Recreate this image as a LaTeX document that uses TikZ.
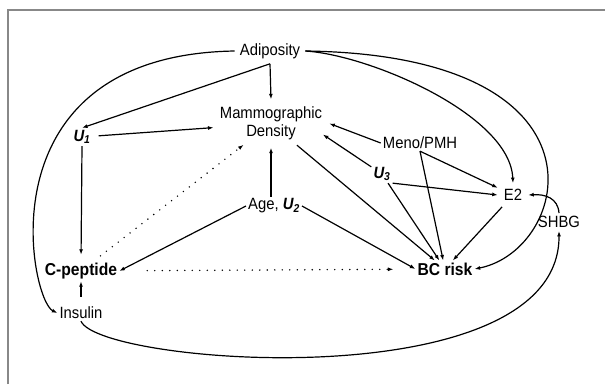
\documentclass[tikz,border=0pt]{standalone}
\usepackage{fontspec}
\setmainfont{Liberation Sans}[FakeStretch=0.91]
\usetikzlibrary{arrows.meta,shapes.geometric}
\definecolor{framegray}{HTML}{888888}

\begin{document}
\begin{tikzpicture}[x=1pt,y=-1pt,
    lbl/.style={font=\fontsize{16.3}{18}\selectfont, inner sep=2pt},
    boldlbl/.style={font=\fontsize{17.2}{18}\selectfont\bfseries, inner sep=2pt},
    arr/.style={line width=1.2pt, -{Latex[length=5.5pt,width=4pt]}},
    dots/.style={arr, line width=1.6pt, line cap=round, dash pattern=on 0pt off 7.5pt}]
    \useasboundingbox (0,0) rectangle (605,384);
    \draw[framegray, line width=2.5pt] (8,384) -- (8,10) -- (605,10);

    \node[lbl, inner sep=5pt] (adip) at (270,51) {Adiposity};
    \node[lbl, ellipse, inner xsep=-10pt, inner ysep=0pt, minimum height=48pt, align=center]
        (mammo) at (271,123.5) {Mammographic\\Density};
    \node[lbl] (uone) at (82,137) {\textbf{\textit{U\textsubscript{1}}}};
    \node[lbl] (meno) at (420,143) {Meno/PMH};
    \node[lbl] (uthree) at (382,174) {\textbf{\textit{U\textsubscript{3}}}};
    \node[lbl] (age) at (274,206) {Age, \textbf{\textit{U\textsubscript{2}}}};
    \node[lbl, inner sep=6pt] (etwo) at (513,195) {E2};
    \node[lbl, inner sep=3pt] (shbg) at (559,222) {SHBG};
    \node[boldlbl] (cpep) at (81,271) {C-peptide};
    \node[boldlbl] (bcrisk) at (445,269) {BC risk};
    \node[lbl] (insulin) at (81,313) {Insulin};

    % from adiposity
    \draw[arr] (adip.west) .. controls (-20,55) and (30,300) .. (insulin.west);
    \draw[arr] (adip.east) .. controls (370,55) and (510,115) .. (etwo.north);
    \draw[arr] (adip.east) .. controls (620,55) and (570,250) .. (bcrisk.east);
    \draw[arr] (adip.south) -- (mammo.north);
    \draw[arr] (adip.south) -- (uone.north);

    \draw[arr, shorten <=6pt] (uone) -- (mammo);
    \draw[arr, shorten >=6pt] (uone.south) -- (cpep.north);
    \draw[dots, shorten <=8pt] (cpep) -- (mammo);
    \draw[dots, shorten <=28pt, shorten >=22pt] (cpep) -- (bcrisk);

    % age, U2
    \draw[arr] (mammo.south |- age.north) -- (mammo.south);
    \draw[arr] (age.west) -- (cpep.east);
    \draw[arr] (age.east) -- (bcrisk.west);

    \draw[arr] (mammo) -- (bcrisk);
    \draw[arr] (meno.west) -- (mammo.east);
    \draw[arr] (meno.south) -- (etwo);
    \draw[arr] (meno.south) -- (bcrisk);
    \draw[arr] (uthree) -- (mammo.-12);
    \draw[arr] (uthree.south east) -- (etwo.west);
    \draw[arr] (uthree) -- (bcrisk);
    \draw[arr] (etwo) -- (bcrisk);
    \draw[arr] (shbg.north) .. controls (558,198) and (545,194) .. (etwo.east);

    % insulin
    \draw[arr, shorten <=8pt] (insulin.north) -- (cpep.south);
    \draw[arr] (insulin.south) .. controls (100,365) and (560,400) .. (shbg.south);
\end{tikzpicture}
\end{document}
